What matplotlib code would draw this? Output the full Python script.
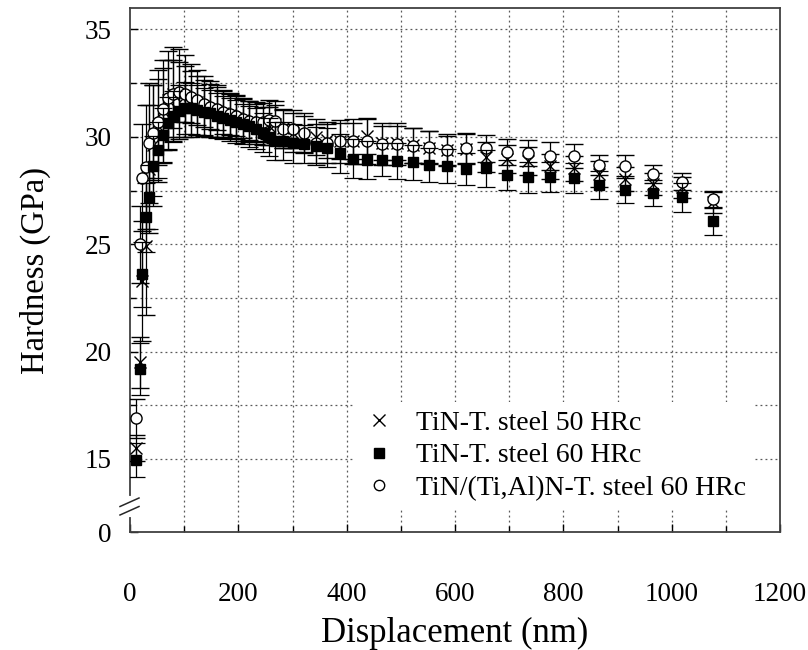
import matplotlib
matplotlib.use("Agg")
import matplotlib.pyplot as plt
from matplotlib.lines import Line2D
import numpy as np

plt.rcParams['font.family'] = ['Liberation Serif', 'DejaVu Serif']

# Displacement (nm), shared by the three series
displacement = [11, 18, 23, 29, 35.5, 43, 51, 60, 70, 80, 91, 101, 112, 124, 136, 148,
                160, 172, 184, 196, 208, 220, 232, 245, 256, 268, 283, 301, 322, 343,
                363, 388, 412, 437, 465, 493, 522, 552, 585, 620, 657, 696, 735, 775,
                820, 866, 914, 965, 1019, 1076]

# TiN - T. steel 50 HRc (crosses)
h50 = [15.5, 19.5, 23.3, 24.9, 28.5, 29.6, 30.5, 31.2, 31.7, 32.0, 32.0, 31.9, 31.7, 31.6,
       31.45, 31.3, 31.2, 31.1, 31.0, 30.9, 30.8, 30.7, 30.6, 30.5, 30.5, 30.6, 30.4, 30.2,
       30.1, 30.0, 29.85, 29.8, 29.8, 30.05, 29.7, 29.7, 29.6, 29.5, 29.4, 29.45, 29.05,
       28.96, 28.88, 28.62, 28.53, 28.27, 28.03, 27.8, 27.65, 26.95]
e50 = [0.6, 1.2, 2.8, 3.2, 3.0, 2.8, 2.6, 2.4, 2.3, 2.2, 2.1, 1.9, 1.7, 1.5, 1.4, 1.3,
       1.2, 1.1, 1.05, 1.0, 1.0, 0.95, 0.95, 0.9, 0.9, 0.9, 0.9, 0.9, 0.85, 0.85, 0.85,
       0.85, 0.85, 0.85, 0.8, 0.8, 0.8, 0.75, 0.75, 0.7, 0.7, 0.65, 0.65, 0.6, 0.6, 0.6,
       0.55, 0.5, 0.5, 0.5]

# TiN - T. steel 60 HRc (filled squares)
h60 = [14.95, 19.2, 23.6, 26.25, 27.2, 28.65, 29.4, 30.1, 30.65, 30.95, 31.2, 31.35,
       31.33, 31.25, 31.18, 31.1, 30.98, 30.9, 30.8, 30.7, 30.6, 30.5, 30.38, 30.2, 30.0,
       29.81, 29.8, 29.7, 29.66, 29.58, 29.5, 29.24, 28.99, 28.92, 28.93, 28.87, 28.81,
       28.68, 28.65, 28.5, 28.53, 28.23, 28.11, 28.11, 28.08, 27.75, 27.53, 27.38, 27.18,
       26.09]
e60 = [0.8, 1.2, 1.5, 1.6, 1.5, 1.4, 1.3, 1.25, 1.2, 1.2, 1.2, 1.2, 1.2, 1.15, 1.1, 1.1,
       1.05, 1.0, 1.0, 1.0, 0.95, 0.95, 0.95, 0.9, 0.9, 0.9, 0.9, 0.9, 0.9, 0.9, 0.9, 0.9,
       0.9, 0.89, 0.77, 0.84, 0.8, 0.8, 0.8, 0.73, 0.88, 0.71, 0.73, 0.7, 0.7, 0.65, 0.63,
       0.62, 0.67, 0.66]

# TiN/(Ti,Al)N - T. steel 60 HRc (open circles)
hml = [16.9, 25.0, 28.1, 28.6, 29.7, 30.2, 30.7, 31.3, 31.8, 32.0, 32.1, 32.0, 31.85,
       31.7, 31.55, 31.4, 31.3, 31.15, 31.05, 30.98, 30.85, 30.75, 30.7, 30.67, 30.8,
       30.75, 30.36, 30.36, 30.2, 29.7, 29.7, 29.8, 29.8, 29.8, 29.66, 29.66, 29.58, 29.51,
       29.38, 29.47, 29.46, 29.3, 29.24, 29.12, 29.09, 28.68, 28.62, 28.27, 27.92, 27.1]
eml = [0.9, 1.8, 2.5, 2.9, 2.8, 2.2, 2.0, 1.9, 1.8, 1.6, 1.4, 1.3, 1.2, 1.15, 1.1, 1.05,
       1.0, 1.0, 0.95, 0.95, 0.9, 0.9, 0.9, 0.9, 0.9, 0.9, 0.9, 0.9, 0.9, 0.9, 0.9, 1.0,
       1.05, 1.05, 0.98, 0.98, 0.81, 0.74, 0.67, 0.7, 0.62, 0.59, 0.61, 0.65, 0.56, 0.47,
       0.53, 0.41, 0.4, 0.39]

labels = ["TiN-T. steel 50 HRc", "TiN-T. steel 60 HRc", "TiN/(Ti,Al)N-T. steel 60 HRc"]

fig = plt.figure(figsize=(8.08, 6.5), dpi=100)
ax = fig.add_axes([130/808, 1-532/650, 650/808, 524/650])

ymin, ymax = 11.6, 36.0
ax.set_xlim(0, 1200)
ax.set_ylim(ymin, ymax)

# grid (dotted), horizontal only from 15 upward
for gy in np.arange(15, 35.01, 2.5):
    ax.axhline(gy, color='0.35', lw=0.9, ls=(0, (1.5, 2.5)), zorder=0)
for gx in range(100, 1200, 100):
    ax.axvline(gx, color='0.35', lw=0.9, ls=(0, (1.5, 2.5)), zorder=0)

ekw = dict(ecolor='black', elinewidth=0.9, capsize=6.5, capthick=0.9, ls='none')
ax.errorbar(displacement, h50, yerr=e50, marker='x', ms=8, mec='black', mew=1.0,
            zorder=3, **ekw)
ax.errorbar(displacement, hml, yerr=eml, marker='o', ms=8, mfc='white', mec='black',
            mew=1.0, zorder=4, **ekw)
ax.errorbar(displacement, h60, yerr=e60, marker='s', ms=7.5, mfc='black', mec='black',
            zorder=5, **ekw)

# ticks
ax.set_xticks(range(0, 1201, 200))
ax.set_xticks(range(100, 1200, 200), minor=True)
ax.set_yticks([ymin, 15, 20, 25, 30, 35])
ax.set_yticklabels(['0', '15', '20', '25', '30', '35'])
ax.set_yticks([17.5, 22.5, 27.5, 32.5], minor=True)
ax.tick_params(which='both', direction='in', top=False, right=False, labelsize=19.5,
               width=1.0, color='black')
ax.tick_params(which='major', length=6)
ax.tick_params(which='minor', length=4)
ax.tick_params(axis='x', pad=36)
ax.tick_params(axis='y', pad=13)

for s in ax.spines.values():
    s.set_color('0.25')
    s.set_linewidth(1.3)

ax.set_xlabel('Displacement (nm)', fontsize=25, labelpad=7)
ax.set_ylabel('Hardness (GPa)', fontsize=23.5, labelpad=24)

# axis break marks on left spine
tr = ax.transAxes
def px2ax(px, py):
    return ((px - 130) / 650, (532 - py) / 524)
x0, y0 = px2ax(130, 498)
x1, y1 = px2ax(130, 515)
ax.plot([x0, x1], [y0, y1], transform=tr, color='white', lw=3, clip_on=False, zorder=10)
for dy in (0, 8.5):
    a = px2ax(120, 515 - dy)
    b = px2ax(139, 506.5 - dy)
    ax.plot([a[0], b[0]], [a[1], b[1]], transform=tr, color='0.15', lw=1.1,
            clip_on=False, zorder=11)

handles = [Line2D([], [], ls='none', marker='x', ms=8, mec='black', mew=1.0),
           Line2D([], [], ls='none', marker='s', ms=7, mfc='black', mec='black'),
           Line2D([], [], ls='none', marker='o', ms=7.5, mfc='white', mec='black', mew=1.0)]
leg = ax.legend(handles, labels, loc='lower left', bbox_to_anchor=px2ax(354, 509),
                fontsize=20, frameon=True, facecolor='white', edgecolor='none',
                framealpha=1, fancybox=False, handlelength=1.2, handletextpad=0.75,
                labelspacing=0.25, borderpad=0.3, borderaxespad=0)
leg.set_zorder(20)

fig.savefig('out.png', dpi=100)
